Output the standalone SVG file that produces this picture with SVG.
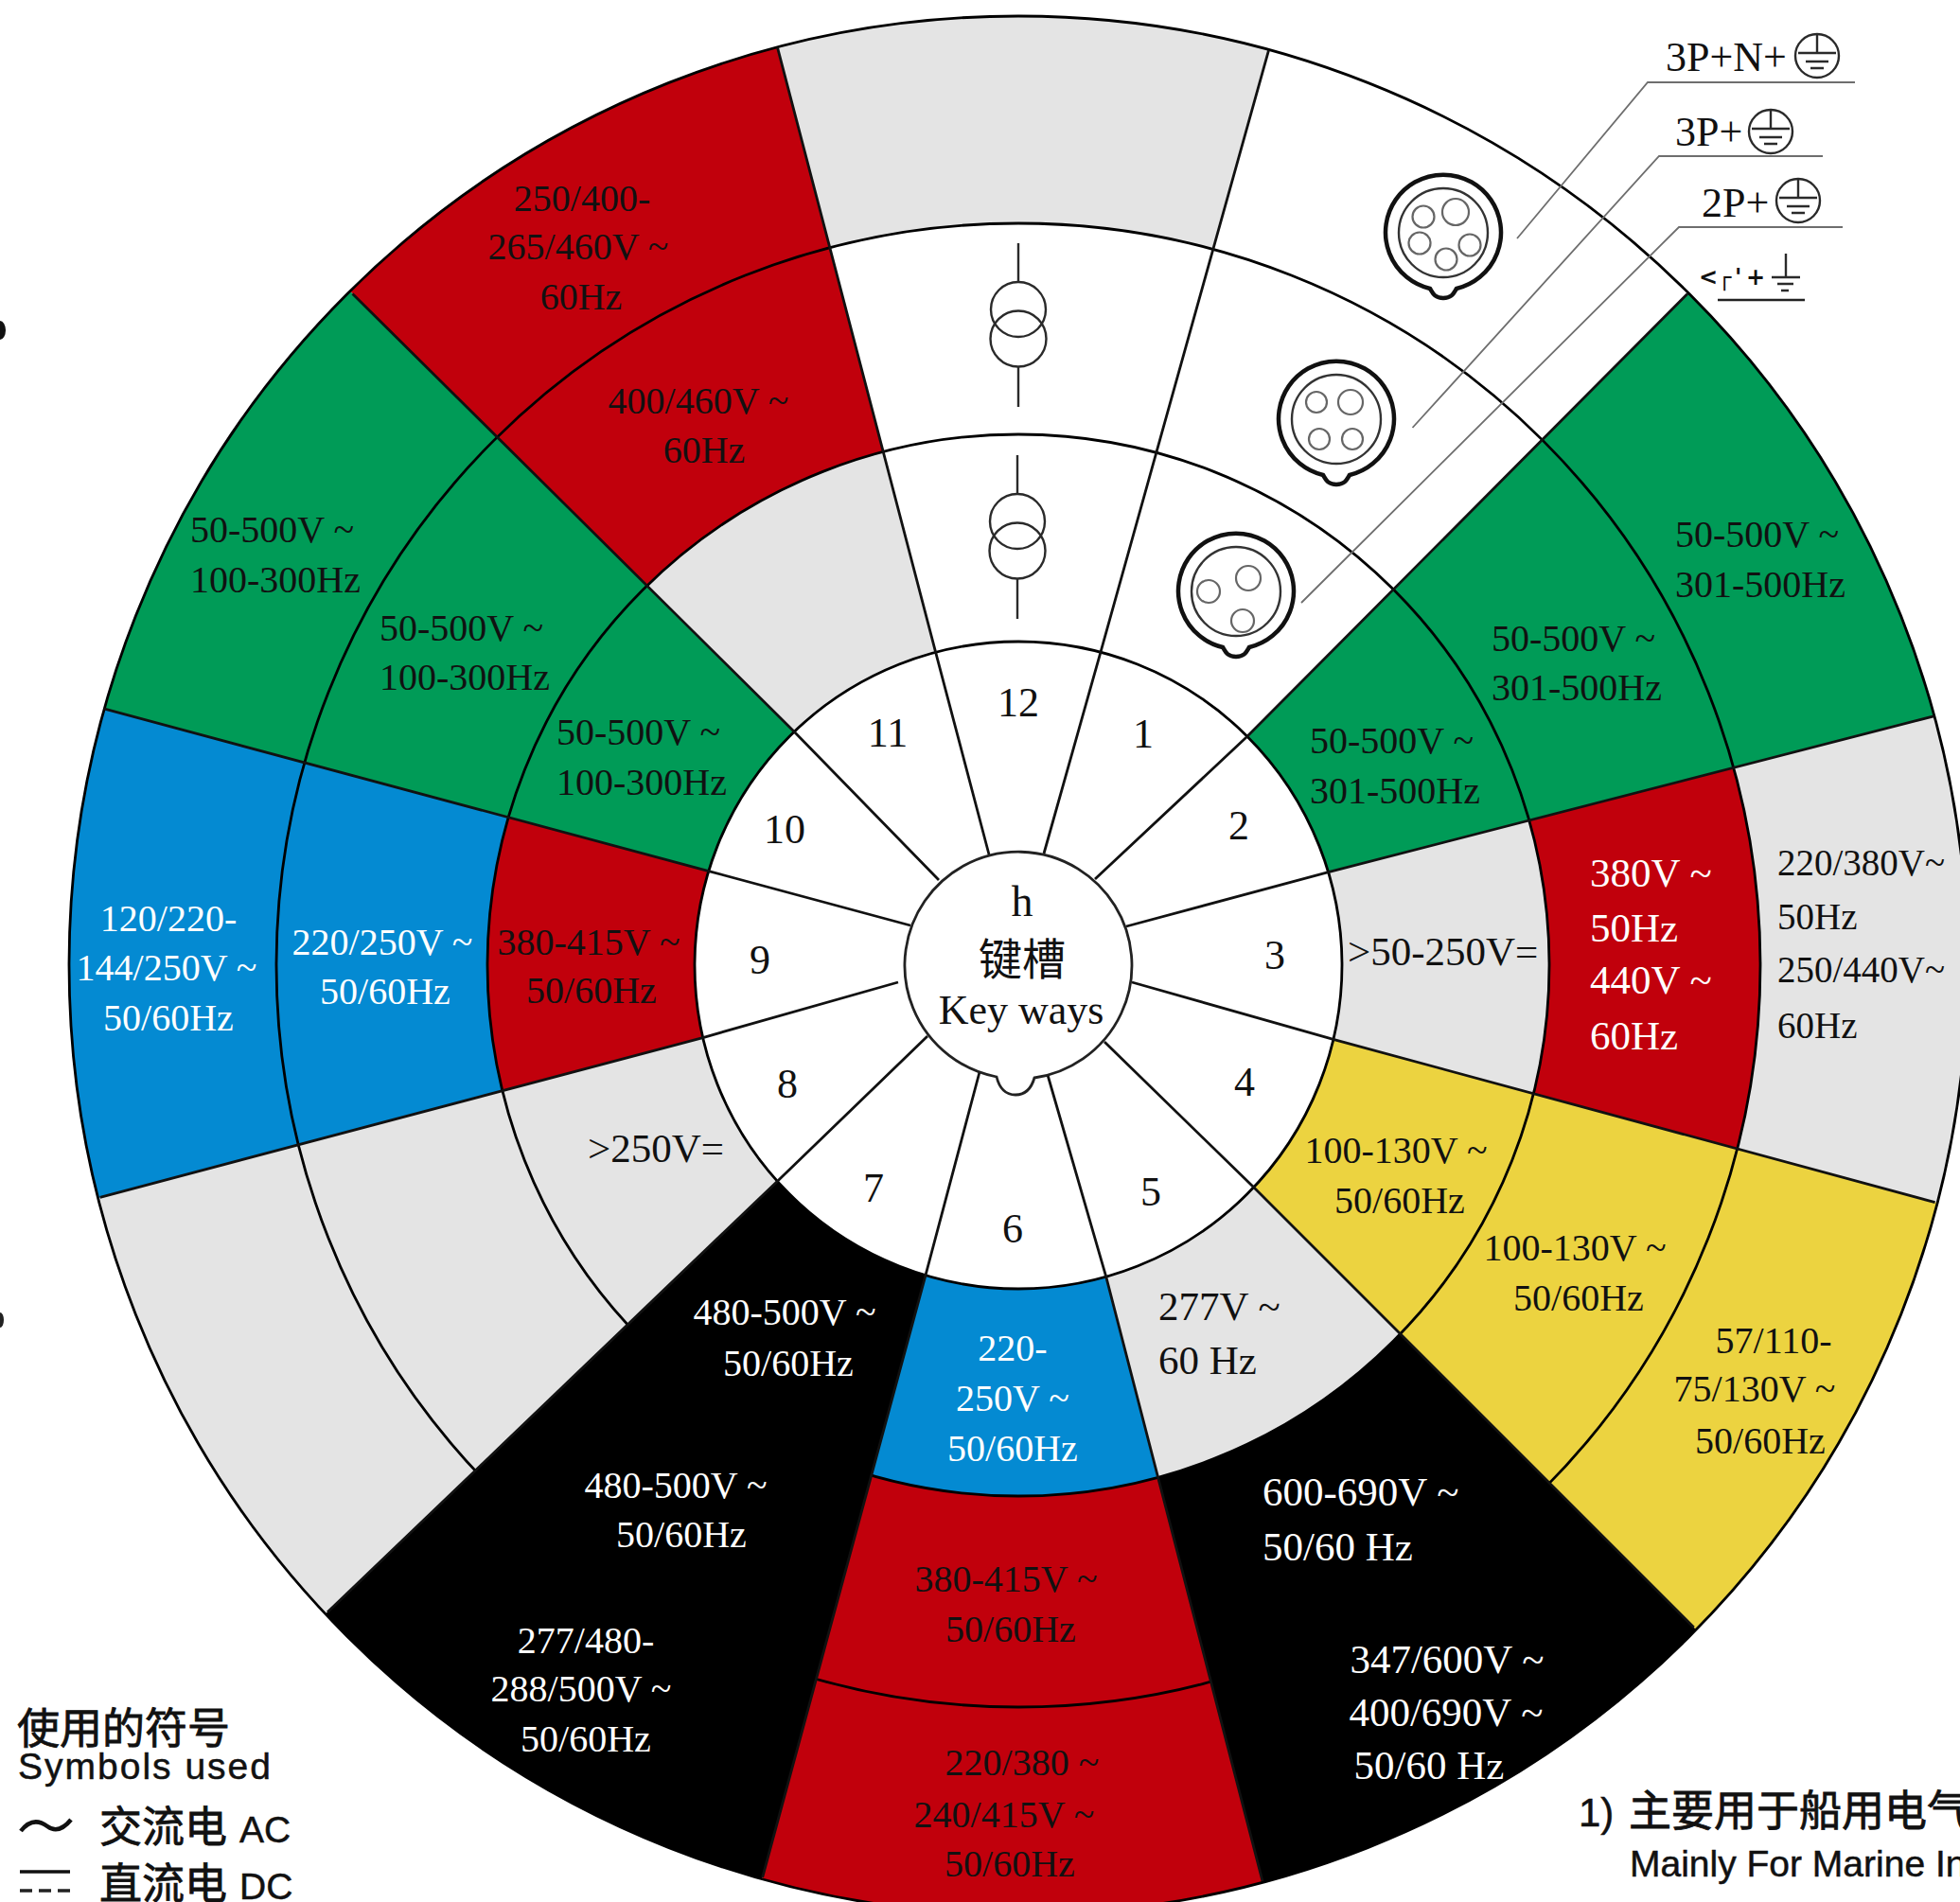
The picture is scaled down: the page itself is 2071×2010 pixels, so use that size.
<svg xmlns="http://www.w3.org/2000/svg" width="2071" height="2010" viewBox="0 0 2071 2010">
<style>
text{font-family:"Liberation Serif","Noto Sans CJK SC",serif;font-size:40px;fill:#111}
.m{text-anchor:middle}
.w{fill:#fff}
.n{font-size:44px;text-anchor:middle}
.sm{font-size:39px}
.big{font-size:43px}
.sub{font-family:"Liberation Sans","Noto Sans CJK SC",sans-serif;font-size:39px;stroke:#111;stroke-width:.5}
.cjk{font-family:"Noto Sans CJK SC",sans-serif;font-size:45px;stroke:#111;stroke-width:.8}
.lab{font-size:44px}
.red{fill:#C1000C}.green{fill:#009B57}.blue{fill:#048AD2}.yellow{fill:#ECD340}.gray{fill:#E4E4E4}.black{fill:#000}.white{fill:#fff}
.o{clip-path:url(#c3)}.d{clip-path:url(#c2)}.i{clip-path:url(#c1)}
.sym{fill:none;stroke:#2a2a2a;stroke-width:2.4}
.plugo{fill:#fff;stroke:#111;stroke-width:4.5}
.plugi{fill:none;stroke:#333;stroke-width:2.4}
.pin{fill:none;stroke:#666;stroke-width:2.2}
.lead{fill:none;stroke:#6e6e6e;stroke-width:1.8}
.ring{fill:none;stroke:#000;stroke-width:2.8}
.spoke{fill:none;stroke:#111;stroke-width:2.8}
</style>
<defs>
<clipPath id="c3"><circle cx="1076" cy="1020" r="1003"/></clipPath>
<clipPath id="c2"><circle cx="1076" cy="1020" r="784"/></clipPath>
<clipPath id="c1"><circle cx="1076" cy="1020" r="561"/></clipPath>
<polygon id="s12" points="1076,1020 988,687 802,-26 1362,-23 1164,687"/>
<polygon id="s1" points="1076,1020 1164,687 1362,-23 1839,254 1317,779"/>
<polygon id="s2" points="1076,1020 1317,779 1839,254 2120,737 1403,922"/>
<polygon id="s3" points="1076,1020 1403,922 2120,737 2121,1291 1411,1099"/>
<polygon id="s4" points="1076,1020 1411,1099 2121,1291 1845,1775 1325,1255"/>
<polygon id="s5" points="1076,1020 1325,1255 1845,1775 1354,2064 1169,1350"/>
<polygon id="s6" points="1076,1020 1169,1350 1354,2064 785,2060 977,1350"/>
<polygon id="s7" points="1076,1020 977,1350 785,2060 289,1758 821.5,1248"/>
<polygon id="s8" points="1076,1020 821.5,1248 289,1758 29,1286 744,1096"/>
<polygon id="s9" points="1076,1020 744,1096 29,1286 33,728 749,921"/>
<polygon id="s10" points="1076,1020 749,921 33,728 317,255 839,773"/>
<polygon id="s11" points="1076,1020 839,773 317,255 802,-26 988,687"/>
<g id="xf" class="sym"><path d="M0 -70V-29M0 60V103"/><circle cx="0" cy="0" r="29"/><circle cx="0" cy="31" r="29.5"/></g>
<g id="earth" class="sym"><circle r="23"/><path d="M0 -23V-3M-20 -3H20M-12 6H12M-7 13H7"/></g>
<g id="plug"><path class="plugo" d="M-14 59A61 61 0 1 1 14 59C11 64 9 69 0 69C-9 69 -11 64 -14 59Z"/><circle class="plugi" r="47"/></g>
</defs>
<rect width="2071" height="2010" fill="#fff"/>
<g id="edge-marks"><ellipse cx="0" cy="349" rx="6" ry="10" fill="#111"/><ellipse cx="0" cy="1395" rx="4" ry="8" fill="#222"/></g>

<g id="sector-12"><use href="#s12" class="gray o"/><use href="#s12" class="white d"/><use href="#s12" class="white i"/><use href="#xf" transform="translate(1076 327)"/><use href="#xf" transform="translate(1075 551)"/></g>

<g id="sector-1"><use href="#s1" class="white o"/>
<g id="plug-5p" transform="translate(1525 246)"><use href="#plug"/><circle class="pin" cx="-21" cy="-17" r="11.5"/><circle class="pin" cx="13" cy="-22" r="14"/><circle class="pin" cx="-25" cy="11" r="11.5"/><circle class="pin" cx="28" cy="13" r="11.5"/><circle class="pin" cx="3" cy="28" r="11.5"/></g>
<g id="plug-4p" transform="translate(1412 443)"><use href="#plug"/><circle class="pin" cx="-21" cy="-18" r="11"/><circle class="pin" cx="15" cy="-18" r="13"/><circle class="pin" cx="-18" cy="21" r="11"/><circle class="pin" cx="17" cy="21" r="11"/></g>
<g id="plug-3p" transform="translate(1306 625)"><use href="#plug"/><circle class="pin" cx="-29" cy="0" r="12"/><circle class="pin" cx="13" cy="-14" r="13"/><circle class="pin" cx="7" cy="31" r="12"/></g></g>

<g id="sector-2"><use href="#s2" class="green o"/>
<text x="1770" y="578">50-500V ~</text><text x="1770" y="631">301-500Hz</text>
<text x="1576" y="688">50-500V ~</text><text x="1576" y="740">301-500Hz</text>
<text x="1384" y="796">50-500V ~</text><text x="1384" y="849">301-500Hz</text></g>

<g id="sector-3"><use href="#s3" class="gray o"/><use href="#s3" class="red d"/><use href="#s3" class="gray i"/>
<text x="1878" y="925" class="sm">220/380V~</text><text x="1878" y="982" class="sm">50Hz</text><text x="1878" y="1038" class="sm">250/440V~</text><text x="1878" y="1097" class="sm">60Hz</text>
<text x="1680" y="937" class="big w">380V ~</text><text x="1680" y="995" class="big w">50Hz</text><text x="1680" y="1050" class="big w">440V ~</text><text x="1680" y="1109" class="big w">60Hz</text>
<text x="1424" y="1020" class="big">&gt;50-250V=</text></g>

<g id="sector-4"><use href="#s4" class="yellow o"/>
<text x="1874" y="1430" class="m">57/110-</text><text x="1854" y="1481" class="m">75/130V ~</text><text x="1860" y="1536" class="m">50/60Hz</text>
<text x="1664" y="1332" class="m">100-130V ~</text><text x="1668" y="1385" class="m">50/60Hz</text>
<text x="1475" y="1229" class="m">100-130V ~</text><text x="1479" y="1282" class="m">50/60Hz</text></g>

<g id="sector-5"><use href="#s5" class="black o"/><use href="#s5" class="gray i"/>
<text x="1529" y="1768" class="m w big">347/600V ~</text><text x="1528" y="1824" class="m w big">400/690V ~</text><text x="1510" y="1880" class="m w big">50/60 Hz</text>
<text x="1334" y="1591" class="w big">600-690V ~</text><text x="1334" y="1649" class="w big">50/60 Hz</text>
<text x="1224" y="1395" class="big">277V ~</text><text x="1224" y="1452" class="big">60 Hz</text></g>

<g id="sector-6"><use href="#s6" class="red o"/><use href="#s6" class="blue i"/>
<text x="1080" y="1876" class="m">220/380 ~</text><text x="1061" y="1931" class="m">240/415V ~</text><text x="1067" y="1983" class="m">50/60Hz</text>
<text x="1063" y="1682" class="m">380-415V ~</text><text x="1068" y="1735" class="m">50/60Hz</text>
<text x="1070" y="1438" class="m w">220-</text><text x="1070" y="1491" class="m w">250V ~</text><text x="1070" y="1544" class="m w">50/60Hz</text></g>

<g id="sector-7"><use href="#s7" class="black o"/>
<text x="619" y="1747" class="m w">277/480-</text><text x="614" y="1798" class="m w">288/500V ~</text><text x="619" y="1851" class="m w">50/60Hz</text>
<text x="714" y="1583" class="m w">480-500V ~</text><text x="720" y="1635" class="m w">50/60Hz</text>
<text x="829" y="1400" class="m w">480-500V ~</text><text x="833" y="1454" class="m w">50/60Hz</text></g>

<g id="sector-8"><use href="#s8" class="gray o"/>
<text x="693" y="1228" class="m big">&gt;250V=</text></g>

<g id="sector-9"><use href="#s9" class="blue o"/><use href="#s9" class="red i"/>
<text x="178" y="984" class="m w">120/220-</text><text x="176" y="1036" class="m w">144/250V ~</text><text x="178" y="1089" class="m w">50/60Hz</text>
<text x="404" y="1009" class="m w">220/250V ~</text><text x="407" y="1061" class="m w">50/60Hz</text>
<text x="622" y="1009" class="m">380-415V ~</text><text x="625" y="1060" class="m">50/60Hz</text></g>

<g id="sector-10"><use href="#s10" class="green o"/>
<text x="201" y="573">50-500V ~</text><text x="201" y="626">100-300Hz</text>
<text x="401" y="677">50-500V ~</text><text x="401" y="729">100-300Hz</text>
<text x="588" y="787">50-500V ~</text><text x="588" y="840">100-300Hz</text></g>

<g id="sector-11"><use href="#s11" class="red o"/><use href="#s11" class="gray i"/>
<text x="615" y="223" class="m">250/400-</text><text x="611" y="274" class="m">265/460V ~</text><text x="614" y="327" class="m">60Hz</text>
<text x="738" y="437" class="m">400/460V ~</text><text x="744" y="489" class="m">60Hz</text></g>

<g id="rings">
<circle class="ring" cx="1076" cy="1020" r="1003"/><circle class="ring" cx="1076" cy="1020" r="784"/><circle class="ring" cx="1076" cy="1020" r="561"/>
<circle class="ring" cx="1076" cy="1020" r="342" style="fill:#fff"/>
</g>
<g id="spokes" class="spoke">
<polyline points="1340.6,52.8 1163.6,686.8 1103,902"/>
<polyline points="1783,310.4 1316.8,779.3 1157,929"/>
<polyline points="2043.3,756.8 1402.7,921.9 1190,979"/>
<polyline points="2044.6,1270.6 1410.6,1098.9 1196,1038"/>
<polyline points="1789.7,1719.7 1324.8,1254.8 1167,1101"/>
<polyline points="1334,1987.8 1168.9,1349.9 1107,1136"/>
<polyline points="805.7,1983.8 977.4,1349.9 1035,1133"/>
<polyline points="346,1703.8 821.5,1248.2 980,1095"/>
<polyline points="105.7,1265.3 743.6,1096.3 949,1038"/>
<polyline points="109.6,748.9 748.9,920.6 962,978"/>
<polyline points="372.5,310.4 838.7,772.7 992,930"/>
<polyline points="821.5,50.2 988,686.8 1045,903"/>
</g>

<g id="key-numbers">
<text x="1076" y="757" class="n">12</text><text x="1208" y="790" class="n">1</text><text x="1309" y="887" class="n">2</text><text x="1347" y="1024" class="n">3</text><text x="1315" y="1158" class="n">4</text><text x="1216" y="1274" class="n">5</text><text x="1070" y="1313" class="n">6</text><text x="923" y="1270" class="n">7</text><text x="832" y="1160" class="n">8</text><text x="803" y="1029" class="n">9</text><text x="829" y="891" class="n">10</text><text x="938" y="789" class="n">11</text>
</g>

<g id="hub">
<path d="M1053 1138A120 120 0 1 1 1093 1139C1091 1146 1086 1157 1073 1157C1060 1157 1055 1146 1053 1138Z" fill="#fff" stroke="#222" stroke-width="2.8"/>
<text x="1080" y="968" class="n" style="font-size:46px">h</text>
<text x="1080" y="1030" class="n" style="font-family:'Noto Sans CJK SC',sans-serif;font-size:46px">键槽</text>
<text x="1079" y="1082" class="n">Key ways</text>
</g>

<g id="connectors">
<path class="lead" d="M1960 87H1741L1603 252"/>
<path class="lead" d="M1926 165H1753L1492.5 452"/>
<path class="lead" d="M1947 240H1774L1375 637"/>
</g>

<g id="label-3pne"><text x="1760" y="75" class="lab">3P+N+</text><use href="#earth" transform="translate(1920 59)"/></g>
<g id="label-3pe"><text x="1770" y="154" class="lab">3P+</text><use href="#earth" transform="translate(1871 139)"/></g>
<g id="label-2pe"><text x="1798" y="229" class="lab">2P+</text><use href="#earth" transform="translate(1900 212)"/></g>
<g id="label-cut"><text y="301" style="font-family:'DejaVu Sans',sans-serif;font-weight:bold;font-size:24px"><tspan x="1795">&lt;</tspan><tspan x="1815">┌</tspan><tspan x="1833">'</tspan><tspan x="1845">+</tspan></text><path class="sym" d="M1887 268V293M1872 293H1902M1878 300H1895M1882 307H1890"/><path d="M1815 317H1907" stroke="#222" stroke-width="2.6"/></g>

<g id="legend">
<text x="18" y="1843" class="cjk">使用的符号</text>
<text x="19" y="1880" class="sub" style="letter-spacing:2px">Symbols used</text>
<path d="M22 1935C32 1922 42 1924 50 1930C58 1936 66 1934 75 1923" fill="none" stroke="#111" stroke-width="4.5"/>
<text x="105" y="1947" class="cjk">交流电</text><text x="253" y="1947" class="sub">AC</text>
<path d="M21 1978H74" stroke="#111" stroke-width="3.5"/><path d="M21 1998H74" stroke="#222" stroke-width="3.5" stroke-dasharray="13 7"/>
<text x="105" y="2007" class="cjk">直流电</text><text x="253" y="2007" class="sub">DC</text>
</g>
<g id="note">
<text x="1668" y="1930" class="sub" style="font-size:42px">1)</text><text x="1721" y="1930" class="cjk">主要用于船用电气</text>
<text x="1722" y="1983" class="sub">Mainly For Marine In</text>
</g>
</svg>
